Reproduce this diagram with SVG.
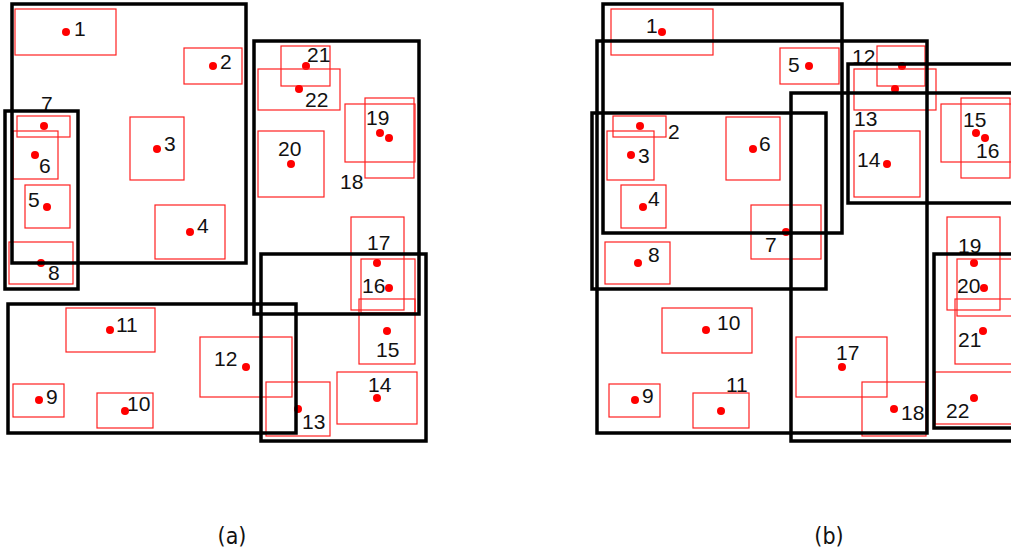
<svg xmlns="http://www.w3.org/2000/svg" width="1011" height="552" viewBox="0 0 1011 552">
<style>
.c{fill:none;stroke:#000;stroke-width:3.5}
.r{fill:none;stroke:#ff2020;stroke-width:1.2}
.p{fill:#ff0000}
.t{font-family:"Liberation Sans",Arial,sans-serif;font-size:21px;fill:#111}
.cap{font-family:"DejaVu Sans Condensed","Liberation Sans",sans-serif;font-size:23px;fill:#111;text-anchor:middle}
</style>
<rect width="1011" height="552" fill="#fff"/>
<!-- Panel (a) -->
<g id="a_items">
<g id="a1"><rect class="r" x="15" y="9" width="101" height="46"/><circle class="p" cx="66" cy="32" r="4"/><text class="t" x="74" y="36">1</text></g>
<g id="a2"><rect class="r" x="184" y="48" width="58" height="36"/><circle class="p" cx="213" cy="66" r="4"/><text class="t" x="220" y="69">2</text></g>
<g id="a3"><rect class="r" x="130" y="117" width="54" height="63"/><circle class="p" cx="157" cy="149" r="4"/><text class="t" x="164" y="151">3</text></g>
<g id="a4"><rect class="r" x="155" y="205" width="70" height="54"/><circle class="p" cx="190" cy="232" r="4"/><text class="t" x="197" y="233">4</text></g>
<g id="a5"><rect class="r" x="25" y="185" width="45" height="43"/><circle class="p" cx="47" cy="207" r="4"/><text class="t" x="28" y="207">5</text></g>
<g id="a6"><rect class="r" x="13" y="131" width="45" height="48"/><circle class="p" cx="35" cy="155" r="4"/><text class="t" x="39" y="173">6</text></g>
<g id="a7"><rect class="r" x="17" y="116" width="53" height="21"/><circle class="p" cx="44" cy="126" r="4"/><text class="t" x="41" y="111">7</text></g>
<g id="a8"><rect class="r" x="9" y="242" width="64" height="42"/><circle class="p" cx="41" cy="263" r="4"/><text class="t" x="48" y="280">8</text></g>
<g id="a9"><rect class="r" x="13" y="384" width="51" height="33"/><circle class="p" cx="39" cy="400" r="4"/><text class="t" x="46" y="404">9</text></g>
<g id="a10"><rect class="r" x="97" y="393" width="56" height="35"/><circle class="p" cx="125" cy="411" r="4"/><text class="t" x="127" y="411">10</text></g>
<g id="a11"><rect class="r" x="66" y="308" width="89" height="44"/><circle class="p" cx="110" cy="330" r="4"/><text class="t" x="116" y="332">11</text></g>
<g id="a12"><rect class="r" x="200" y="337" width="92" height="60"/><circle class="p" cx="246" cy="367" r="4"/><text class="t" x="214" y="366">12</text></g>
<g id="a13"><rect class="r" x="266" y="382" width="64" height="54"/><circle class="p" cx="298" cy="409" r="4"/><text class="t" x="302" y="429">13</text></g>
<g id="a14"><rect class="r" x="337" y="372" width="80" height="52"/><circle class="p" cx="377" cy="398" r="4"/><text class="t" x="368" y="392">14</text></g>
<g id="a15"><rect class="r" x="359" y="299" width="56" height="65"/><circle class="p" cx="387" cy="331" r="4"/><text class="t" x="376" y="357">15</text></g>
<g id="a16"><rect class="r" x="361" y="259" width="54" height="54"/><circle class="p" cx="389" cy="288" r="4"/><text class="t" x="362" y="293">16</text></g>
<g id="a17"><rect class="r" x="351" y="217" width="53" height="93"/><circle class="p" cx="377" cy="263" r="4"/><text class="t" x="367" y="250">17</text></g>
<g id="a18"><rect class="r" x="345" y="104" width="70" height="58"/><circle class="p" cx="389" cy="138" r="4"/><text class="t" x="340" y="189">18</text></g>
<g id="a19"><rect class="r" x="365" y="98" width="49" height="80"/><circle class="p" cx="380" cy="133" r="4"/><text class="t" x="366" y="125">19</text></g>
<g id="a20"><rect class="r" x="258" y="131" width="66" height="66"/><circle class="p" cx="291" cy="164" r="4"/><text class="t" x="278" y="156">20</text></g>
<g id="a21"><rect class="r" x="281" y="46" width="49" height="40"/><circle class="p" cx="306" cy="66" r="4"/><text class="t" x="307" y="62">21</text></g>
<g id="a22"><rect class="r" x="258" y="69" width="82" height="41"/><circle class="p" cx="299" cy="89" r="4"/><text class="t" x="305" y="107">22</text></g>
</g>
<g id="a_clusters">
<rect id="aC1" class="c" x="12" y="4" width="234" height="259"/>
<rect id="aC2" class="c" x="5" y="111" width="73" height="178"/>
<rect id="aC3" class="c" x="254" y="41" width="165" height="273"/>
<rect id="aC4" class="c" x="261" y="254" width="165" height="187"/>
<rect id="aC5" class="c" x="8" y="304" width="288" height="129"/>
</g>
<!-- Panel (b) -->
<g id="b_items">
<g id="b1"><rect class="r" x="611" y="9" width="102" height="46"/><circle class="p" cx="662" cy="32" r="4"/><text class="t" x="646" y="33">1</text></g>
<g id="b2"><rect class="r" x="613" y="116" width="53" height="21"/><circle class="p" cx="640" cy="126" r="4"/><text class="t" x="668" y="139">2</text></g>
<g id="b3"><rect class="r" x="607" y="131" width="47" height="49"/><circle class="p" cx="631" cy="155" r="4"/><text class="t" x="638" y="163">3</text></g>
<g id="b4"><rect class="r" x="621" y="185" width="45" height="43"/><circle class="p" cx="643" cy="207" r="4"/><text class="t" x="648" y="206">4</text></g>
<g id="b5"><rect class="r" x="780" y="48" width="59" height="36"/><circle class="p" cx="809" cy="66" r="4"/><text class="t" x="788" y="72">5</text></g>
<g id="b6"><rect class="r" x="726" y="117" width="54" height="63"/><circle class="p" cx="753" cy="149" r="4"/><text class="t" x="759" y="151">6</text></g>
<g id="b7"><rect class="r" x="751" y="205" width="70" height="54"/><circle class="p" cx="786" cy="232" r="4"/><text class="t" x="765" y="252">7</text></g>
<g id="b8"><rect class="r" x="605" y="242" width="65" height="42"/><circle class="p" cx="638" cy="263" r="4"/><text class="t" x="648" y="262">8</text></g>
<g id="b9"><rect class="r" x="609" y="384" width="51" height="33"/><circle class="p" cx="635" cy="400" r="4"/><text class="t" x="642" y="403">9</text></g>
<g id="b10"><rect class="r" x="662" y="308" width="90" height="45"/><circle class="p" cx="706" cy="330" r="4"/><text class="t" x="717" y="330">10</text></g>
<g id="b11"><rect class="r" x="693" y="393" width="56" height="35"/><circle class="p" cx="721" cy="411" r="4"/><text class="t" x="726" y="392">11</text></g>
<g id="b12"><rect class="r" x="877" y="46" width="48" height="40"/><circle class="p" cx="902" cy="66" r="4"/><text class="t" x="852" y="64">12</text></g>
<g id="b13"><rect class="r" x="854" y="69" width="82" height="41"/><circle class="p" cx="895" cy="89" r="4"/><text class="t" x="854" y="126">13</text></g>
<g id="b14"><rect class="r" x="854" y="131" width="66" height="66"/><circle class="p" cx="887" cy="164" r="4"/><text class="t" x="857" y="167">14</text></g>
<g id="b15"><rect class="r" x="961" y="98" width="49" height="80"/><circle class="p" cx="976" cy="133" r="4"/><text class="t" x="963" y="127">15</text></g>
<g id="b16"><rect class="r" x="941" y="104" width="72" height="58"/><circle class="p" cx="985" cy="138" r="4"/><text class="t" x="976" y="158">16</text></g>
<g id="b17"><rect class="r" x="796" y="337" width="91" height="60"/><circle class="p" cx="842" cy="367" r="4"/><text class="t" x="836" y="360">17</text></g>
<g id="b18"><rect class="r" x="862" y="382" width="64" height="54"/><circle class="p" cx="894" cy="409" r="4"/><text class="t" x="901" y="420">18</text></g>
<g id="b19"><rect class="r" x="947" y="217" width="53" height="93"/><circle class="p" cx="974" cy="263" r="4"/><text class="t" x="958" y="253">19</text></g>
<g id="b20"><rect class="r" x="957" y="259" width="60" height="57"/><circle class="p" cx="984" cy="288" r="4"/><text class="t" x="957" y="293">20</text></g>
<g id="b21"><rect class="r" x="955" y="299" width="60" height="65"/><circle class="p" cx="983" cy="331" r="4"/><text class="t" x="958" y="347">21</text></g>
<g id="b22"><rect class="r" x="935" y="372" width="80" height="52"/><circle class="p" cx="974" cy="398" r="4"/><text class="t" x="946" y="418">22</text></g>
</g>
<g id="b_clusters">
<rect id="bC1" class="c" x="603" y="4" width="239" height="229"/>
<rect id="bC2" class="c" x="597" y="41" width="330" height="392"/>
<rect id="bC3" class="c" x="592" y="113" width="234" height="176"/>
<rect id="bC4" class="c" x="791" y="93" width="240" height="348"/>
<rect id="bC5" class="c" x="848" y="64" width="180" height="139"/>
<rect id="bC6" class="c" x="934" y="254" width="100" height="174"/>
</g>
<g id="connectors"/>
<text class="cap" x="232" y="544">(a)</text>
<text class="cap" x="829" y="544">(b)</text>
</svg>
